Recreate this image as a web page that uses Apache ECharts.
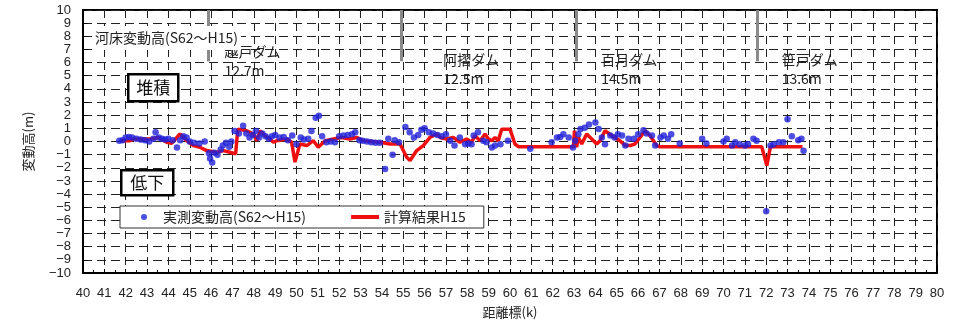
<!DOCTYPE html>
<html>
<head>
<meta charset="utf-8">
<script src="https://cdn.jsdelivr.net/npm/echarts@6/dist/echarts.min.js"></script>
<style>
  html, body { margin: 0; padding: 0; background: #fff; }
  #chart { width: 962px; height: 324px; }
</style>
</head>
<body>
<div id="chart"></div>
<script>
// measured bed change (S62~H15), distance km / metres
var measuredKm = [
  41.7, 41.85, 42.0, 42.15, 42.3, 42.5, 42.7, 42.9, 43.1, 43.3, 43.4, 43.55, 43.7, 43.85, 44.0, 44.2,
  44.4, 44.55, 44.7, 44.85, 45.0, 45.2, 45.45, 45.7, 45.9, 45.95, 46.05, 46.15, 46.3, 46.45, 46.55, 46.7,
  46.85, 46.95, 47.1, 47.3, 47.5, 47.65, 47.8, 47.95, 48.1, 48.25, 48.4, 48.55, 48.7, 48.85, 49.0,
  49.2, 49.4, 49.6, 49.8, 50.0, 50.2, 50.35, 50.55, 50.7, 50.9, 51.05, 51.2, 51.4, 51.6, 51.8, 52.0,
  52.2, 52.4, 52.6, 52.75, 52.95, 53.1, 53.3, 53.5, 53.7, 53.9, 54.15, 54.3, 54.5, 54.6, 54.8, 55.1,
  55.3, 55.5, 55.7, 55.85, 56.0, 56.2, 56.4, 56.6, 56.8,
  57.0, 57.2, 57.4, 57.65, 57.9, 58.05, 58.2, 58.3, 58.5, 58.75, 58.9, 59.15, 59.3, 59.55, 59.9, 60.95,
  61.95, 62.2, 62.35, 62.5, 62.75, 62.95, 63.05, 63.2, 63.3, 63.5, 63.7, 64.0, 64.15, 64.3, 64.45, 64.7, 64.9,
  65.05, 65.25, 65.4, 65.55, 65.8, 66.0, 66.25, 66.4, 66.65, 66.8, 67.05, 67.2, 67.4, 67.55, 67.95, 69.0,
  69.2, 70.0, 70.15, 70.4, 70.55, 70.75, 71.0, 71.15, 71.4, 71.55, 72.0, 72.2, 72.35, 72.6, 72.8, 73.0,
  73.2, 73.5, 73.65, 73.75
];
var measuredVal = [
  0.05, 0.1, 0.3, 0.35, 0.3, 0.2, 0.15, 0.1, 0.0, 0.2, 0.7, 0.3, 0.2, 0.15, 0.2, 0.1,
  -0.45, 0.1, 0.4, 0.3, 0.0, -0.1, -0.15, 0.0, -0.9, -1.3, -1.6, -0.85, -1.0, -0.6, -0.3, -0.1,
  -0.4, 0.0, 0.8, 0.6, 1.2, 0.6, 0.3, 0.5, 0.8, 0.3, 0.6, 0.4, 0.2, 0.4, 0.5,
  0.3, 0.35, 0.1, 0.45, -0.2, 0.3, 0.15, 0.2, 0.8, 1.8, 1.95, 0.4, -0.05, 0.0, -0.05, 0.4,
  0.45, 0.5, 0.55, 0.7, 0.1, 0.05, 0.0, -0.05, -0.1, -0.1, -2.1, 0.2, -1.0, 0.1, -0.05, 1.1,
  0.7, 0.3, 0.5, 0.9, 1.0, 0.7, 0.6, 0.5, 0.4,
  0.55, 0.05, -0.3, 0.3, -0.2, -0.15, -0.2, 0.45, 0.7, 0.05, -0.05, -0.45, -0.3, -0.2, 0.05, -0.55,
  -0.05, 0.3, 0.35, 0.55, 0.3, -0.45, 0.05, 0.55, 0.95, 1.05, 1.3, 1.45, 0.95, 0.3, -0.2, 0.45, 0.3,
  0.55, 0.45, -0.3, 0.2, 0.2, 0.55, 0.85, 0.6, 0.45, -0.3, 0.3, 0.45, 0.2, 0.55, -0.15, 0.2,
  -0.15, 0.0, 0.2, -0.3, -0.05, -0.2, -0.3, -0.2, 0.2, 0.05, -5.3, -0.3, -0.2, -0.05, -0.05, 1.7,
  0.4, 0.1, 0.2, -0.7
];

// calculated result H15
var calcKm = [
  41.73, 42.2, 42.36, 43.14, 43.53, 43.92, 44.15, 44.54, 44.86, 45.17, 45.48, 45.79, 46.26, 46.57,
  46.88, 47.15, 47.25, 47.67, 47.98, 48.14, 48.29, 48.61, 48.76, 48.92, 49.07, 49.54, 49.77, 49.93,
  50.16, 50.48, 50.79, 51.02, 51.34, 51.73, 52.12, 52.5, 52.82, 53.13, 53.91, 54.38, 54.85, 55.16,
  55.32, 55.63, 55.94, 56.25, 56.57, 56.72, 57.03, 57.34, 57.66, 57.97, 58.2, 58.36, 58.6, 58.83,
  58.99, 59.14, 59.3, 59.45, 59.61, 60.0, 60.23, 60.39, 62.97, 63.02, 63.12, 63.2, 63.36, 63.59,
  63.83, 64.06, 64.22, 64.45, 64.68, 64.91, 65.15, 65.39, 65.62, 65.85, 66.09, 66.33, 66.56, 66.72,
  66.87, 67.0, 71.79, 72.03, 72.2, 73.7
];
var calcVal = [
  0.06, 0.06, 0.19, 0.19, 0.31, -0.06, -0.14, 0.57, 0.06, -0.31, -0.44, -0.69, -0.82, -0.69,
  -0.82, -0.94, 0.94, 0.82, 0.57, 0.06, 0.82, 0.31, 0.19, -0.06, 0.06, 0.19, -0.06, -1.57,
  -0.19, -0.31, 0.06, -0.44, 0.06, 0.19, 0.31, 0.19, 0.31, 0.06, -0.06, -0.19, -0.19, -1.2,
  -1.45, -0.69, -0.31, 0.31, 0.57, 0.31, 0.19, 0.31, -0.06, 0.19, -0.06, 0.44, 0.06, 0.57,
  0.19, 0.06, 0.31, 0.06, 0.94, 0.94, -0.19, -0.39, -0.39, 0.82, -0.44, 0.31, -0.19, 0.57,
  0.19, -0.19, 0.06, 0.82, 0.55, 0.31, 0.06, -0.31, -0.31, -0.19, 0.31, 0.82, 0.44, 0.06,
  -0.31, -0.39, -0.39, -1.83, -0.39, -0.39
];

// dams
var damKm = [45.85, 54.9, 63.1, 71.6];
var damName = ['越戸ダム', '阿摺ダム', '百月ダム', '笹戸ダム'];
var damHeight = ['12.7m', '12.5m', '14.5m', '13.6m'];
var damLabelAt = [[46.6, 6.1], [56.85, 5.5], [64.25, 5.5], [72.7, 5.5]];

var chart = echarts.init(document.getElementById('chart'), null, { renderer: 'canvas' });

var jp = 'Noto Sans CJK JP';
var numFont = 'Liberation Sans';

function box(text, left, top, w, h) {
  return {
    type: 'group', left: left, top: top, z: 100,
    children: [
      { type: 'rect', z: 100, shape: { x: 0, y: 0, width: w, height: h },
        style: { fill: '#fff', stroke: '#000', lineWidth: 2.5 } },
      { type: 'text', z: 101, x: w / 2, y: h / 2,
        style: { text: text, font: '17px "Noto Sans CJK JP"', fill: '#111', align: 'center', verticalAlign: 'middle' } }
    ]
  };
}

var option = {
  backgroundColor: '#fff',
  animation: false,
  grid: {
    left: 83, right: 25, top: 10, bottom: 49,
    show: true,
    borderColor: '#000',
    borderWidth: 2,
    backgroundColor: '#fff'
  },
  legend: {
    left: 120,
    top: 206,
    padding: [3, 18, 3, 21],
    itemGap: 45,
    itemWidth: 28,
    itemHeight: 6,
    backgroundColor: '#fff',
    borderColor: '#333',
    borderWidth: 1,
    textStyle: { fontFamily: jp, fontSize: 14, color: '#222', lineHeight: 16 },
    data: [
      { name: '実測変動高(S62～H15)', icon: 'circle' },
      { name: '計算結果H15', icon: 'path://M0,0L28,0L28,4L0,4Z' }
    ]
  },
  xAxis: {
    type: 'value',
    min: 40,
    max: 80,
    interval: 1,
    name: '距離標(k)',
    nameLocation: 'middle',
    nameGap: 33,
    nameTextStyle: { fontFamily: jp, fontSize: 13, color: '#222' },
    axisLine: { show: true, onZero: false, lineStyle: { color: '#000', width: 2 } },
    axisTick: { show: true, inside: true, length: 4, lineStyle: { color: '#000' } },
    minorTick: { show: true, splitNumber: 2, length: 3, lineStyle: { color: '#000' } },
    axisLabel: { fontFamily: numFont, fontSize: 13, color: '#222', margin: 14 },
    splitLine: { show: true, lineStyle: { color: '#222', width: 1, type: [8, 5] } }
  },
  yAxis: {
    type: 'value',
    min: -10,
    max: 10,
    interval: 1,
    name: '変動高(m)',
    nameLocation: 'middle',
    nameGap: 48,
    nameRotate: 90,
    nameTextStyle: { fontFamily: jp, fontSize: 13, color: '#222' },
    axisLine: { show: true, onZero: false, lineStyle: { color: '#000', width: 2 } },
    axisTick: { show: true, inside: true, length: 4, lineStyle: { color: '#000' } },
    axisLabel: {
      fontFamily: numFont, fontSize: 13, color: '#222', margin: 12,
      formatter: function (v) { return v < 0 ? '\u2212' + (-v) : String(v); }
    },
    splitLine: { show: true, lineStyle: { color: '#222', width: 1, type: [9, 5] } }
  },
  graphic: [
    {
      type: 'text', z: 100, left: 92, top: 26,
      style: {
        text: '河床変動高(S62～H15)', font: '14px "Noto Sans CJK JP"', fill: '#222',
        backgroundColor: '#fff', padding: [5, 3]
      }
    },
    box('堆積', 127, 73, 50, 27),
    box('低下', 120, 169, 52, 25)
  ],
  series: [
    {
      name: '計算結果H15',
      type: 'line',
      z: 2,
      showSymbol: false,
      symbol: 'none',
      lineStyle: { color: '#ee1010', width: 3.5 },
      itemStyle: { color: '#ee1010' },
      data: calcKm.map(function (k, i) { return [k, calcVal[i]]; }),
      markLine: {
        silent: true,
        symbol: ['none', 'none'],
        label: { show: false },
        lineStyle: { color: '#8a8a8a', width: 3, type: 'solid' },
        data: damKm.map(function (k) { return [{ coord: [k, 10] }, { coord: [k, 6.1] }]; })
      },
      markPoint: {
        silent: true,
        symbol: 'rect',
        symbolSize: 1,
        itemStyle: { color: 'rgba(0,0,0,0)' },
        label: {
          show: true, position: 'right', distance: 0,
          fontFamily: jp, fontSize: 14, lineHeight: 19, color: '#222',
          formatter: '{b}'
        },
        data: damKm.map(function (k, i) {
          return { name: damName[i] + '\n' + damHeight[i], coord: damLabelAt[i] };
        })
      }
    },
    {
      name: '実測変動高(S62～H15)',
      type: 'scatter',
      z: 3,
      symbol: 'circle',
      symbolSize: 6.5,
      itemStyle: { color: '#2020d8' },
      data: measuredKm.map(function (k, i) { return [k, measuredVal[i]]; })
    }
  ]
};

chart.setOption(option);
</script>
</body>
</html>
